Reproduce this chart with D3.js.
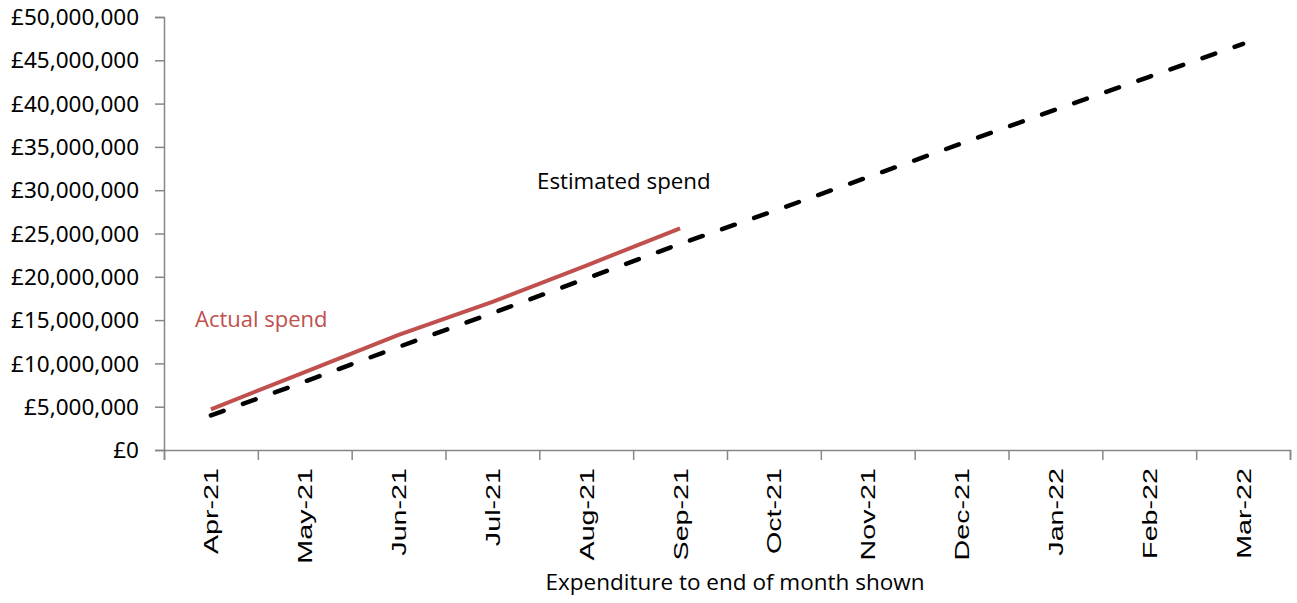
<!DOCTYPE html>
<html>
<head>
<meta charset="utf-8">
<script src="https://d3js.org/d3.v7.min.js"></script>
<style>
  body { margin: 0; background: #fff; }
  svg { display: block; }
</style>
</head>
<body>
<svg id="chart" width="1297" height="603"></svg>
<script>
const months = ["Apr-21","May-21","Jun-21","Jul-21","Aug-21","Sep-21","Oct-21","Nov-21","Dec-21","Jan-22","Feb-22","Mar-22"];
const actualSpend = [4.7e6, 9.0e6, 13.3e6, 17.1e6, 21.3e6, 25.6e6];
const estimatedSpend = [4.0e6, 7.9e6, 11.9e6, 15.8e6, 19.8e6, 23.8e6, 27.6e6, 31.5e6, 35.4e6, 39.3e6, 43.1e6, 46.9e6];
const yTicks = [0, 5e6, 10e6, 15e6, 20e6, 25e6, 30e6, 35e6, 40e6, 45e6, 50e6];

const svg = d3.select("#chart");
const mLeft = 164, mRight = 1290, mTop = 17, mBottom = 450;

const x = d3.scaleBand().domain(months).range([mLeft, mRight]).padding(0);
const xEdge = d3.scaleLinear().domain([0, months.length]).range([mLeft, mRight]);
const y = d3.scaleLinear().domain([0, 50e6]).range([mBottom, mTop]);

const axisColor = "#868686";

// Y axis
const yAxis = svg.append("g")
  .attr("transform", `translate(${mLeft},0)`)
  .call(d3.axisLeft(y).tickValues(yTicks).tickSize(9).tickPadding(16)
    .tickFormat(d => "£" + d3.format(",")(d)));
yAxis.select(".domain").attr("stroke", axisColor).attr("stroke-width", 1.5);
yAxis.selectAll(".tick line").attr("stroke", axisColor).attr("stroke-width", 1.5);
yAxis.selectAll(".tick text")
  .attr("fill", "#000")
  .style("font-family", "'Noto Sans', sans-serif")
  .style("font-size", "22.5px")
  .attr("dy", "0.34em");

// X axis: boundary ticks
const xAxis = svg.append("g")
  .attr("transform", `translate(0,${mBottom})`)
  .call(d3.axisBottom(xEdge).tickValues(d3.range(months.length + 1)).tickSize(10).tickFormat(""));
xAxis.select(".domain").attr("stroke", axisColor).attr("stroke-width", 1.5);
xAxis.selectAll(".tick line").attr("stroke", axisColor).attr("stroke-width", 1.5);

// X labels (rotated)
svg.append("g").selectAll("text")
  .data(months)
  .join("text")
  .attr("transform", d => `translate(${x(d) + x.bandwidth()/2 + 7.5},${mBottom + 18}) rotate(-90) scale(1.4,1)`)
  .attr("text-anchor", "end")
  .style("font-family", "'Liberation Sans', Arial, sans-serif")
  .style("font-size", "20.5px")
  .attr("fill", "#000")
  .text(d => d);

// X axis title
svg.append("text")
  .attr("x", 735).attr("y", 590)
  .attr("text-anchor", "middle")
  .style("font-family", "'Open Sans', sans-serif")
  .style("font-size", "22.5px")
  .attr("fill", "#000")
  .text("Expenditure to end of month shown");

const cx = d => x(d) + x.bandwidth()/2;

// Estimated line
svg.append("path")
  .datum(estimatedSpend)
  .attr("fill", "none")
  .attr("stroke", "#000")
  .attr("stroke-width", 4.5)
  .attr("stroke-dasharray", "13.5,20.5")
  .attr("stroke-linecap", "round")
  .attr("d", d3.line().x((d, i) => cx(months[i])).y(d => y(d)));

// Actual line
svg.append("path")
  .datum(actualSpend)
  .attr("fill", "none")
  .attr("stroke", "#C0504D")
  .attr("stroke-width", 4)
  .attr("d", d3.line().x((d, i) => cx(months[i])).y(d => y(d)));

// Labels
svg.append("text")
  .attr("x", 195).attr("y", 327)
  .style("font-family", "'Open Sans', sans-serif")
  .style("font-size", "22px")
  .attr("fill", "#C0504D")
  .text("Actual spend");

svg.append("text")
  .attr("x", 537).attr("y", 189)
  .style("font-family", "'Open Sans', sans-serif")
  .style("font-size", "22.3px")
  .attr("fill", "#000")
  .text("Estimated spend");
</script>
</body>
</html>
